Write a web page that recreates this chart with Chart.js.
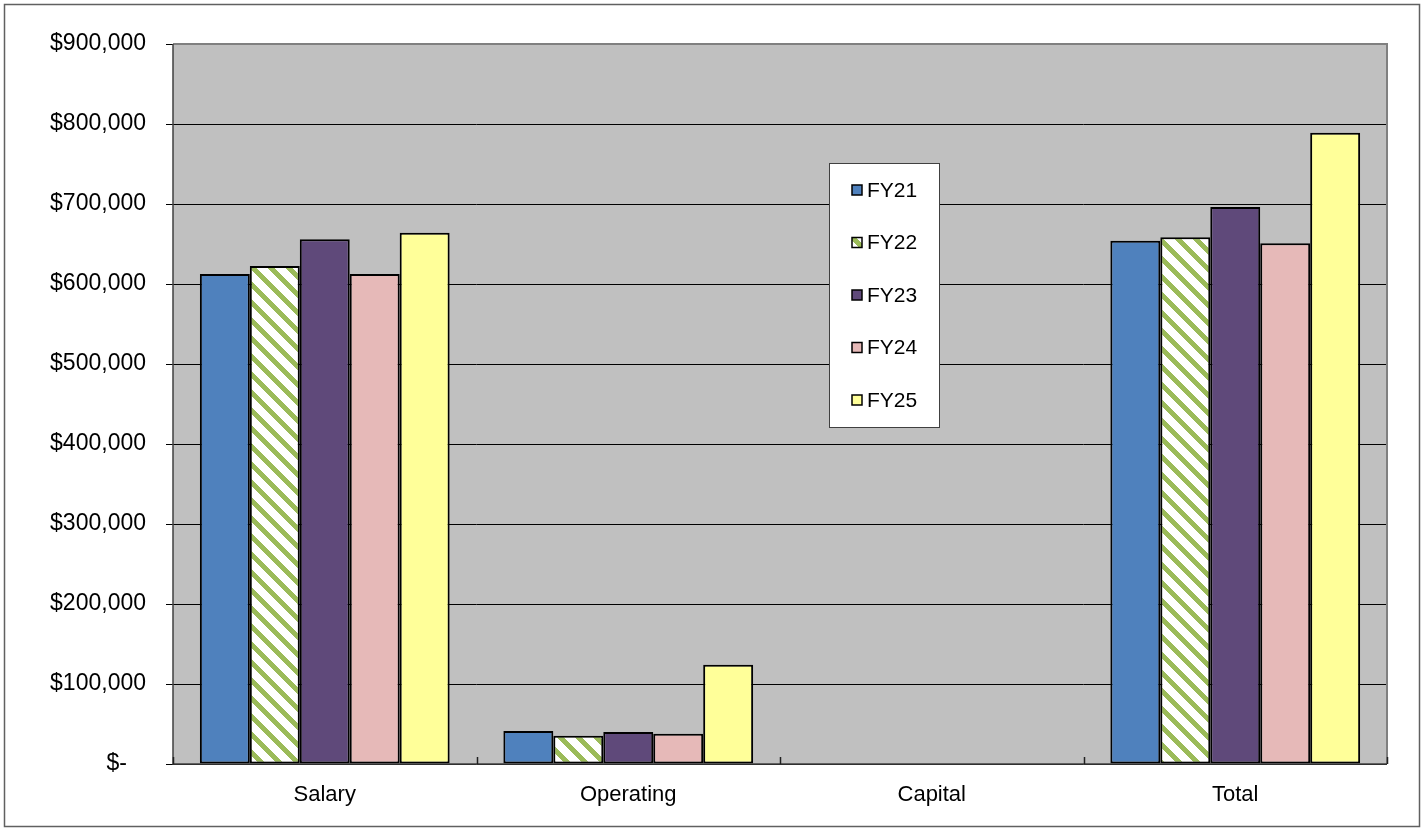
<!DOCTYPE html>
<html>
<head>
<meta charset="utf-8">
<title>Budget by Fiscal Year</title>
<script src="https://cdn.jsdelivr.net/npm/chart.js@4.4.1/dist/chart.umd.min.js"></script>
<style>
  html, body { margin: 0; padding: 0; background: #ffffff; }
  #wrap { position: relative; width: 1424px; height: 830px; }
</style>
</head>
<body>
<div id="wrap"><canvas id="budget"></canvas></div>
<script>
// Budget categories and fiscal-year amounts
const categories = ['Salary', 'Operating', 'Capital', 'Total'];
const fy21 = [612500, 41250, 0, 654000];
const fy22 = [622500, 35400, 0, 658300];
const fy23 = [656000, 40000, 0, 696250];
const fy24 = [612500, 37900, 0, 650800];
const fy25 = [664000, 124200, 0, 789000];
const seriesNames = ['FY21', 'FY22', 'FY23', 'FY24', 'FY25'];
const yTicks = [0, 100000, 200000, 300000, 400000, 500000, 600000, 700000, 800000, 900000];

const FONT = "'Liberation Sans', Arial, sans-serif";

// Diagonal green-on-white hatch used for FY22
function makeHatch() {
  const size = 18;
  const c = document.createElement('canvas');
  c.width = size; c.height = size;
  const g = c.getContext('2d');
  g.fillStyle = '#ffffff';
  g.fillRect(0, 0, size, size);
  g.fillStyle = '#9BBB59';
  for (let y = 0; y < size; y++) {
    for (let x = 0; x < size; x++) {
      if ((((x - y) % size) + size) % size < 7) g.fillRect(x, y, 1, 1);
    }
  }
  return g.createPattern(c, 'repeat');
}
const hatch = makeHatch();

const fills = ['#4F81BD', hatch, '#5F497A', '#E6B9B8', '#FFFF99'];
const seriesData = [fy21, fy22, fy23, fy24, fy25];

const datasets = seriesNames.map((name, i) => ({
  label: name,
  data: seriesData[i],
  backgroundColor: fills[i],
  borderColor: '#000000',
  borderWidth: 2,
  borderSkipped: false,
  categoryPercentage: 0.823,
  barPercentage: 1.0
}));

// Plot background, frame and outer border
const framePlugin = {
  id: 'frame',
  beforeDraw(chart) {
    const { ctx, chartArea: a } = chart;
    ctx.save();
    ctx.fillStyle = '#ffffff';
    ctx.fillRect(0, 0, chart.width, chart.height);
    ctx.fillStyle = '#C0C0C0';
    ctx.fillRect(a.left, a.top, a.right - a.left, a.bottom - a.top);
    ctx.restore();
  },
  afterDatasetsDraw(chart) {
    const { ctx, chartArea: a, scales } = chart;
    const x = scales.x;
    ctx.save();
    // plot frame (top/right)
    ctx.strokeStyle = '#808080';
    ctx.lineWidth = 2;
    ctx.beginPath();
    ctx.moveTo(a.left, a.top);
    ctx.lineTo(a.right, a.top);
    ctx.lineTo(a.right, a.bottom);
    ctx.stroke();
    // axes
    ctx.strokeStyle = '#404040';
    ctx.lineWidth = 1.5;
    ctx.beginPath();
    ctx.moveTo(a.left, a.top);
    ctx.lineTo(a.left, a.bottom);
    ctx.lineTo(a.right, a.bottom);
    ctx.stroke();
    // inward category-boundary tick marks
    ctx.strokeStyle = '#202020';
    ctx.lineWidth = 1.5;
    const half = (x.getPixelForValue(1) - x.getPixelForValue(0)) / 2;
    ctx.beginPath();
    for (let i = 0; i <= categories.length; i++) {
      const px = Math.round(x.getPixelForValue(i) - half) + 0.5;
      ctx.moveTo(px, a.bottom);
      ctx.lineTo(px, a.bottom - 7);
    }
    ctx.stroke();
    ctx.restore();
  },
  afterDraw(chart) {
    const { ctx } = chart;
    ctx.save();
    ctx.strokeStyle = '#606060';
    ctx.lineWidth = 1.5;
    ctx.strokeRect(4.5, 4.5, chart.width - 9, chart.height - 8);
    ctx.restore();
  }
};

// Legend box drawn inside the plot
const legendBox = {
  id: 'legendBox',
  afterDraw(chart, args, opts) {
    const { ctx } = chart;
    ctx.save();
    ctx.fillStyle = '#ffffff';
    ctx.fillRect(opts.x, opts.y, opts.w, opts.h);
    ctx.strokeStyle = '#404040';
    ctx.lineWidth = 1;
    ctx.strokeRect(opts.x + 0.5, opts.y + 0.5, opts.w, opts.h);
    ctx.font = '21px ' + FONT;
    ctx.textBaseline = 'middle';
    ctx.textAlign = 'left';
    chart.data.datasets.forEach((ds, i) => {
      const cy = opts.y + opts.first + i * opts.step;
      const mx = opts.x + 23;
      ctx.fillStyle = ds.backgroundColor;
      ctx.fillRect(mx, cy - 5, 10, 10);
      ctx.strokeStyle = '#000000';
      ctx.lineWidth = 1.5;
      ctx.strokeRect(mx, cy - 5, 10, 10);
      ctx.fillStyle = '#000000';
      ctx.fillText(ds.label, mx + 15, cy + 1);
    });
    ctx.restore();
  }
};

new Chart(document.getElementById('budget'), {
  type: 'bar',
  data: { labels: categories, datasets },
  plugins: [framePlugin, legendBox],
  options: {
    responsive: true,
    maintainAspectRatio: false,
    animation: false,
    layout: { padding: { top: 44, right: 37, bottom: 0, left: 0 } },
    plugins: {
      legend: { display: false },
      tooltip: { enabled: false },
      legendBox: { x: 829, y: 163, w: 110, h: 264, first: 27, step: 52.5 }
    },
    scales: {
      x: {
        grid: { display: false },
        border: { display: false },
        ticks: { color: '#000000', font: { family: FONT, size: 22 }, padding: 10 },
        afterFit(s) { s.height = 66; }
      },
      y: {
        min: 0,
        max: 900000,
        afterBuildTicks(s) { s.ticks = yTicks.map(v => ({ value: v })); },
        grid: { color: '#000000', lineWidth: 1, tickLength: 7, tickColor: '#000000' },
        border: { display: false },
        ticks: {
          color: '#000000',
          font: { family: FONT, size: 23 },
          padding: 20,
          callback: v => v === 0 ? '$-   ' : '$' + v.toLocaleString('en-US')
        },
        afterFit(s) { s.width = 173; }
      }
    }
  }
});
</script>
</body>
</html>
